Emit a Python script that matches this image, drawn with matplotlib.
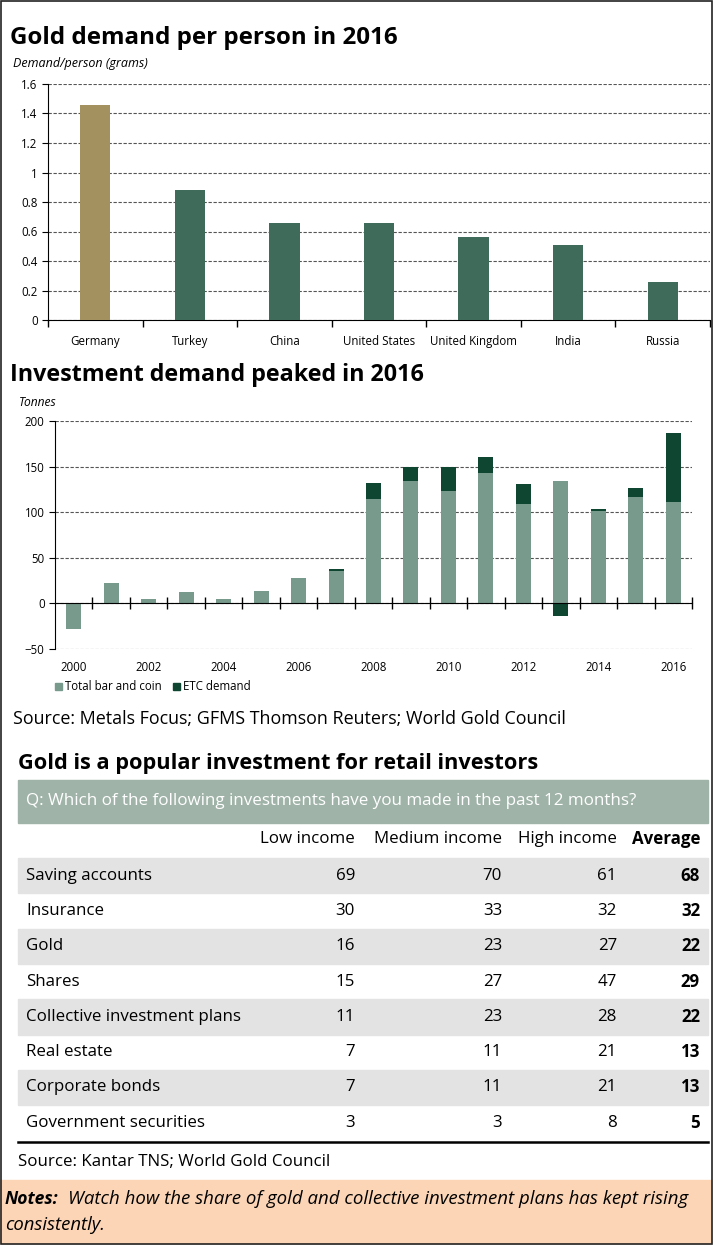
import matplotlib
matplotlib.use("Agg")
import matplotlib.pyplot as plt
import numpy as np
from matplotlib.patches import Rectangle, Patch

plt.rcParams["font.family"] = ["Open Sans", "DejaVu Sans"]

W, H = 721, 1246

# ---- data -----------------------------------------------------------------
countries = ["Germany", "Turkey", "China", "United States", "United Kingdom",
             "India", "Russia"]
per_person = [1.46, 0.88, 0.66, 0.66, 0.56, 0.51, 0.26]

years = list(range(2000, 2017))
bar_coin = [-28, 22, 5, 12, 5, 14, 28, 36, 115, 134, 123, 143, 109, 134,
            101, 117, 111]
etc = [0, 0, 0, 0, 0, 0, 0, 2, 17, 16, 27, 18, 22, -14, 2, 9, 76]

col_heads = ["Low income", "Medium income", "High income", "Average"]
row_labels = ["Saving accounts", "Insurance", "Gold", "Shares",
              "Collective investment plans", "Real estate", "Corporate bonds",
              "Government securities"]
low_inc = [69, 30, 16, 15, 11, 7, 7, 3]
med_inc = [70, 33, 23, 27, 23, 11, 11, 3]
high_inc = [61, 32, 27, 47, 28, 21, 21, 8]
average = [68, 32, 22, 29, 22, 13, 13, 5]

GOLD = "#a3915f"
GREEN = "#3f6b5a"
LIGHT = "#779a8c"
DARK = "#0e4631"


def px_axes(fig, l, t, r, b):
    return fig.add_axes([l / W, 1 - b / H, (r - l) / W, (b - t) / H])


def fit(t, width):
    # scale a text's font so it spans `width` pixels, as in the reference
    bb = t.get_window_extent(fig.canvas.get_renderer())
    t.set_fontsize(t.get_fontsize() * width / bb.width)
    return t.get_fontsize()


fig = plt.figure(figsize=(W / 100, H / 100), dpi=100)

# ---- chart 1: gold demand per person --------------------------------------
ax1 = px_axes(fig, 48, 84, 710, 320)
x = np.arange(len(countries))
ax1.bar(x, per_person, width=0.32,
        color=[GOLD] + [GREEN] * (len(countries) - 1), zorder=3)
ax1.set_xlim(-0.5, len(countries) - 0.5)
ax1.set_ylim(0, 1.6)
yt = np.arange(0, 1.61, 0.2)
ax1.set_yticks(yt, [f"{v:g}" for v in np.round(yt, 1)])
ax1.set_xticks(np.arange(-0.5, len(countries), 1), [""] * (len(countries) + 1))
ax1.set_xticks(x, countries, minor=True)
ax1.tick_params(axis="x", which="major", length=5, width=1)
ax1.tick_params(axis="x", which="minor", length=0, pad=11, labelsize=8.3)
ax1.tick_params(axis="y", length=4, labelsize=8.3)
ax1.yaxis.grid(True, linestyle=(0, (3, 1.5)), color="#555555", lw=0.8)
ax1.set_axisbelow(True)
for s in ("top", "right"):
    ax1.spines[s].set_visible(False)

# ---- chart 2: investment demand -------------------------------------------
ax2 = px_axes(fig, 55, 421, 692, 649)
bc = np.array(bar_coin, dtype=float)
ec = np.array(etc, dtype=float)
bottom = np.where(ec >= 0, np.maximum(bc, 0), np.minimum(bc, 0))
ax2.bar(years, bc, width=0.4, color=LIGHT, zorder=3)
ax2.bar(years, ec, width=0.4, bottom=bottom, color=DARK, zorder=3)
ax2.set_xlim(years[0] - 0.5, years[-1] + 0.5)
ax2.set_ylim(-50, 200)
ax2.set_yticks(np.arange(-50, 201, 50))
ax2.yaxis.grid(True, linestyle=(0, (3, 1.5)), color="#555555", lw=0.8)
ax2.set_axisbelow(True)
ax2.spines["bottom"].set_position(("data", 0))
ax2.spines["bottom"].set_zorder(4)
for s in ("top", "right"):
    ax2.spines[s].set_visible(False)
ax2.set_xticks(np.arange(years[0] + 0.5, years[-1] + 1, 1),
               [""] * len(years))
ax2.tick_params(axis="x", direction="inout", length=8, width=1)
ax2.tick_params(axis="y", length=4, labelsize=8.3)
for yr in years[::2]:
    ax2.text(yr, -0.08, str(yr), transform=ax2.get_xaxis_transform(),
             ha="center", va="center", fontsize=8.3)
fig.legend(handles=[Patch(color=LIGHT, label="Total bar and coin"),
                    Patch(color=DARK, label="ETC demand")],
           loc="center left", bbox_to_anchor=(55 / W, 1 - 687 / H),
           ncol=2, frameon=False, fontsize=8.3, handlelength=0.6,
           handleheight=0.6, handletextpad=0.25, columnspacing=1.0,
           borderpad=0, borderaxespad=0)

# ---- overlay: titles, table, notes ----------------------------------------
ov = fig.add_axes([0, 0, 1, 1], zorder=-1)
ov.set_xlim(0, W)
ov.set_ylim(H, 0)
ov.axis("off")

fit(ov.text(10, 38, "Gold demand per person in 2016", fontsize=17,
            fontweight="bold", va="center"), 387)
fit(ov.text(13, 63, "Demand/person (grams)", fontsize=7, style="italic",
            va="center"), 135)
fit(ov.text(10, 375, "Investment demand peaked in 2016", fontsize=17,
            fontweight="bold", va="center"), 413)
fit(ov.text(19, 402, "Tonnes", fontsize=7, style="italic", va="center"), 38)
fit(ov.text(13, 719,
            "Source: Metals Focus; GFMS Thomson Reuters; World Gold Council",
            fontsize=12, va="center"), 553)

fit(ov.text(18, 764, "Gold is a popular investment for retail investors",
            fontsize=15, fontweight="bold", va="center"), 520)
ov.add_patch(Rectangle((18, 780), 690, 43, color="#a0b3a8"))
fit(ov.text(26, 801,
            "Q: Which of the following investments have you made in the past 12 months?",
            fontsize=11.5, color="white", va="center"), 610)

probe = ov.text(26, 0, "Collective investment plans", fontsize=11)
fs = fit(probe, 214)
probe.remove()

col_right = [355, 502, 617, 700]
for cx, head in zip(col_right, col_heads):
    ov.text(cx, 839, head, fontsize=fs, ha="right", va="center",
            fontweight="bold" if head == "Average" else "normal")

row_top, row_h = 858, 35.3
cols = [low_inc, med_inc, high_inc, average]
for i, lab in enumerate(row_labels):
    y0 = row_top + i * row_h
    if i % 2 == 0:
        ov.add_patch(Rectangle((18, y0), 690, row_h, color="#e3e3e3"))
    yc = y0 + row_h / 2
    ov.text(26, yc, lab, fontsize=fs, va="center")
    for j, (cx, vals) in enumerate(zip(col_right, cols)):
        ov.text(cx, yc, str(vals[i]), fontsize=fs, ha="right", va="center",
                fontweight="bold" if j == 3 else "normal")
ov.plot([18, 708], [1142, 1142], color="black", lw=1.8)
fit(ov.text(18, 1162, "Source: Kantar TNS; World Gold Council", fontsize=11,
            va="center"), 312)

ov.add_patch(Rectangle((0, 1180), 711, 63, color="#fbd5b6"))
fit(ov.text(5, 1199, "Notes:", fontsize=11.5, fontweight="bold",
            style="italic", va="center"), 54)
fit(ov.text(68, 1199,
            "Watch how the share of gold and collective investment plans has kept rising",
            fontsize=11.5, style="italic", va="center"), 620)
fit(ov.text(5, 1225, "consistently.", fontsize=11.5, style="italic",
            va="center"), 100)

# frame round the whole picture
ov.add_patch(Rectangle((0.5, 0.5), 711, 1243, fill=False,
                       edgecolor="#222222", lw=1.2))

fig.savefig("out.png", dpi=100)
